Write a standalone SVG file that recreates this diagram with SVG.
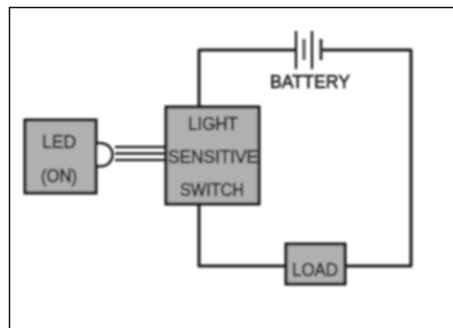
<svg xmlns="http://www.w3.org/2000/svg" width="453" height="328" viewBox="0 0 453 328">
<style>
.b{fill:#b0b0b0;stroke:#111;stroke-width:3}
.w{fill:none;stroke:#1c1c1c;stroke-width:3;stroke-linejoin:round}
.t{font-family:"Liberation Sans",Arial,sans-serif;font-size:18px;fill:#222;stroke:#222;stroke-width:0.6;text-anchor:middle}
</style>
<defs><filter id="s" x="-5%" y="-5%" width="110%" height="110%"><feGaussianBlur stdDeviation="0.9"/></filter></defs>
<rect width="453" height="328" fill="#fff"/>
<path d="M9.500 328V7.500H453" fill="none" stroke="#111" stroke-width="1.500"/>
<g filter="url(#s)">
<g id="connectors">
<path class="w" d="M199 107V50H296M322 50H411V266H346M285 266H199V205"/>
<path d="M115 147H165M115 153.500H165M115 160H165" fill="none" stroke="#222" stroke-width="2.400"/>
<path d="M96 143.500H101A11 11 0 0 1 101 166H96" fill="#fff" stroke="#1c1c1c" stroke-width="3"/>
</g>
<g id="battery">
<path d="M296 31V69M312 31V69" fill="none" stroke="#111" stroke-width="2.200"/>
<path d="M304 39V60" fill="none" stroke="#555" stroke-width="3"/>
<path d="M321 39V60" fill="none" stroke="#333" stroke-width="3"/>
<text class="t" x="310" y="88" textLength="80" lengthAdjust="spacingAndGlyphs">BATTERY</text>
</g>
<g id="led">
<rect class="b" x="25" y="120" width="71" height="73"/>
<text class="t" x="59" y="148" textLength="34" lengthAdjust="spacingAndGlyphs">LED</text>
<text class="t" x="59" y="182" textLength="36" lengthAdjust="spacingAndGlyphs">(ON)</text>
</g>
<g id="switch">
<rect class="b" x="166" y="107" width="93" height="97"/>
<text class="t" x="213" y="130" textLength="50" lengthAdjust="spacingAndGlyphs">LIGHT</text>
<text class="t" x="213" y="163" textLength="90" lengthAdjust="spacingAndGlyphs">SENSITIVE</text>
<text class="t" x="212" y="196" textLength="64" lengthAdjust="spacingAndGlyphs">SWITCH</text>
</g>
<g id="load">
<rect class="b" x="286" y="244" width="59" height="40"/>
<text class="t" x="315" y="276" textLength="46" lengthAdjust="spacingAndGlyphs">LOAD</text>
</g>
</g>
</svg>
